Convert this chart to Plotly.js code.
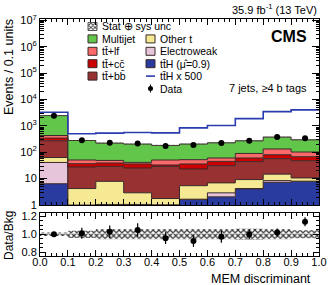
<!DOCTYPE html>
<html><head><meta charset="utf-8">
<script src="https://cdn.plot.ly/plotly-3.0.1.min.js"></script>
<style>body{margin:0;background:#fff}#chart{width:332px;height:285px;}</style>
</head><body><div id="chart"></div>
<script>
// ---- data ----
const binLow = [0.0,0.1,0.2,0.3,0.4,0.5,0.6,0.7,0.8,0.9];
const binHigh = 1.0;
const ttH = [6.4,0.9,0.95,0.95,0.97,1.61,2.04,4.1,7.25,7.9];
const electroweak = [34.6,0.1,0.1,0.1,0.05,0.05,0.85,0.1,1.15,0.1];
const otherT = [22,3.2,6.85,1.85,0.74,3.74,4.0,5.0,6.4,2.6];
const ttbb = [209,23.4,21.2,22.4,27.3,17.8,24,34.7,42.1,37.2];
const ttcc = [71,9.2,9.9,10.6,3.8,12.7,14.1,16.5,23.6,19.8];
const ttlf = [87,14,10,5.3,17.9,16.2,15.4,29.6,52.5,34.4];
const multijet = [2010,228,173,163,130,152,168,182,242,194];
const ttHx500 = [3290,499,531,558,544,841,1026,1885,3466,4017];
const data = [2440,282,228,214,173,189,222,271,382,337];
const dataErr = [49,17,15,15,13,14,15,16,20,18];
const ratioErr = [0.02,0.06,0.07,0.075,0.065,0.065,0.065,0.05,0.045,0.05];
const uncRel = [0.02,0.04,0.055,0.055,0.055,0.055,0.055,0.06,0.055,0.045];
const yTickVals = [1,10,100,1e3,1e4,1e5,1e6,1e7];
const yTickText = ['1','10','10<sup>2</sup>','10<sup>3</sup>','10<sup>4</sup>','10<sup>5</sup>','10<sup>6</sup>','10<sup>7</sup>'];
const col1Labels = ['Stat \u2295 sys unc','Multijet','tt\u0304+lf','tt\u0304+cc\u0304','tt\u0304+bb\u0304'];
const col2Labels = ['Other t','Electroweak','tt\u0304H (\u03bc\u0302=0.9)','tt\u0304H x 500','Data'];

// ---- styles ----
const FONT = 'Liberation Sans, Arial, Helvetica, sans-serif';
const C = {ttH:'#2a3b9f', ew:'#e6c4d9', ot:'#f5ea93', bb:'#983232', cc:'#cc0000', lf:'#fb6a6a', mj:'#62c64b', line:'#2b3cb0'};
const outline = '#3a2828';

const edges = binLow.concat([binHigh]);
const centers = binLow.map(v => v + (binHigh - binLow[binLow.length-1]) / 2);
const step = v => v.concat([v[v.length-1]]);

const comps = [ttH, electroweak, otherT, ttbb, ttcc, ttlf, multijet];
const colors = [C.ttH, C.ew, C.ot, C.bb, C.cc, C.lf, C.mj];
const traces = [];
traces.push({x: edges, y: step(binLow.map(() => 0.01)), type:'scatter', mode:'lines',
  line:{shape:'hv', width:0}, hoverinfo:'skip', xaxis:'x', yaxis:'y'});
let cum = binLow.map(() => 0);
comps.forEach((arr, i) => {
  cum = cum.map((c, j) => c + arr[j]);
  traces.push({x: edges, y: step(cum.slice()), type:'scatter', mode:'lines', fill:'tonexty',
    fillcolor: colors[i], line:{shape:'hv', width:1, color: outline}, xaxis:'x', yaxis:'y'});
});
const total = cum.slice();
traces.push({x: edges, y: step(total.map((t,j) => t*(1-uncRel[j]))), type:'scatter', mode:'lines',
  line:{shape:'hv', width:0}, xaxis:'x', yaxis:'y'});
traces.push({x: edges, y: step(total.map((t,j) => t*(1+uncRel[j]))), type:'scatter', mode:'lines', fill:'tonexty',
  fillcolor:'rgba(0,0,0,0)', fillpattern:{shape:'x', size:3, solidity:0.4, fgcolor:'#555', bgcolor:'rgba(0,0,0,0)'},
  line:{shape:'hv', width:0}, xaxis:'x', yaxis:'y'});
traces.push({x: edges, y: step(ttHx500), type:'scatter', mode:'lines',
  line:{shape:'hv', width:1.6, color:C.line}, xaxis:'x', yaxis:'y'});
traces.push({x: centers, y: data, type:'scatter', mode:'markers',
  marker:{color:'#000', size:6}, error_y:{type:'data', array:dataErr, color:'#000', thickness:1, width:0},
  xaxis:'x', yaxis:'y'});
traces.push({x: edges, y: step(uncRel.map(u => 1-u)), type:'scatter', mode:'lines',
  line:{shape:'hv', width:0}, xaxis:'x2', yaxis:'y2'});
traces.push({x: edges, y: step(uncRel.map(u => 1+u)), type:'scatter', mode:'lines', fill:'tonexty',
  fillcolor:'rgba(0,0,0,0)', fillpattern:{shape:'x', size:4, solidity:0.5, fgcolor:'#333', bgcolor:'rgba(0,0,0,0)'},
  line:{shape:'hv', width:0}, xaxis:'x2', yaxis:'y2'});
traces.push({x: centers, y: data.map((d,j) => d/total[j]), type:'scatter', mode:'markers',
  marker:{color:'#000', size:6}, error_y:{type:'data', array:ratioErr, color:'#000', thickness:1.2, width:0},
  xaxis:'x2', yaxis:'y2'});

// ---- pixel helpers for legend / labels ----
const PL = 40, PR = 319, PT = 19, PB = 256;
const px = v => (v - PL) / (PR - PL);
const py = v => (PB - v) / (PB - PT);

const rowsY = [26.5, 38.9, 51.3, 63.7, 76.1, 88.5];
const shapes = [];
const annotations = [];
traces.push({x:[88,97,97,88,88], y:[rowsY[0]-4,rowsY[0]-4,rowsY[0]+4,rowsY[0]+4,rowsY[0]-4], type:'scatter', mode:'lines',
  fill:'toself', fillcolor:'rgba(0,0,0,0)', fillpattern:{shape:'x', size:3, solidity:0.5, fgcolor:'#444', bgcolor:'rgba(0,0,0,0)'},
  line:{width:1, color:'#555'}, xaxis:'x3', yaxis:'y3'});
const col1Colors = [null, C.mj, C.lf, C.cc, C.bb];
const col2Colors = [C.ot, C.ew, C.ttH];
col1Labels.forEach((lab, i) => {
  if (col1Colors[i]) shapes.push({type:'rect', xref:'paper', yref:'paper', x0:px(88), x1:px(97), y0:py(rowsY[i]-4), y1:py(rowsY[i]+4),
    fillcolor:col1Colors[i], line:{color:outline, width:1}});
  annotations.push({xref:'paper', yref:'paper', x:px(100), y:py(rowsY[i]), xanchor:'left', yanchor:'middle', text:lab,
    showarrow:false, font:{size:10.5, family:FONT, color:'#000'}});
});
col2Labels.forEach((lab, i) => {
  const yy = rowsY[i+1];
  if (i < 3) shapes.push({type:'rect', xref:'paper', yref:'paper', x0:px(146), x1:px(155), y0:py(yy-4), y1:py(yy+4),
    fillcolor:col2Colors[i], line:{color:outline, width:1}});
  if (i === 3) shapes.push({type:'line', xref:'paper', yref:'paper', x0:px(146), x1:px(155), y0:py(yy), y1:py(yy),
    line:{color:C.line, width:1.6}});
  if (i === 4) {
    shapes.push({type:'circle', xref:'paper', yref:'paper', x0:px(148), x1:px(153), y0:py(yy-2.5), y1:py(yy+2.5),
      fillcolor:'#000', line:{color:'#000', width:0}});
    shapes.push({type:'line', xref:'paper', yref:'paper', x0:px(150.5), x1:px(150.5), y0:py(yy-4), y1:py(yy+4),
      line:{color:'#000', width:1}});
  }
  annotations.push({xref:'paper', yref:'paper', x:px(158), y:py(yy), xanchor:'left', yanchor:'middle', text:lab,
    showarrow:false, font:{size:10.5, family:FONT, color:'#000'}});
});
annotations.push(
  {xref:'paper', yref:'paper', x:px(319), y:py(9), xanchor:'right', yanchor:'middle', text:'35.9 fb<sup>-1</sup> (13 TeV)',
   showarrow:false, font:{size:11, family:FONT, color:'#000'}},
  {xref:'paper', yref:'paper', x:px(309), y:py(37), xanchor:'right', yanchor:'middle', text:'<b>CMS</b>',
   showarrow:false, font:{size:16, family:FONT, color:'#000'}},
  {xref:'paper', yref:'paper', x:px(309), y:py(88), xanchor:'right', yanchor:'middle', text:'7 jets, \u22654 b tags',
   showarrow:false, font:{size:11, family:FONT, color:'#000'}},
  {xref:'paper', yref:'paper', x:px(9), y:py(67), xanchor:'center', yanchor:'middle', textangle:-90, text:'Events / 0.1 units',
   showarrow:false, font:{size:12.5, family:FONT, color:'#000'}},
  {xref:'paper', yref:'paper', x:px(9), y:py(236), xanchor:'center', yanchor:'middle', textangle:-90, text:'Data/Bkg',
   showarrow:false, font:{size:12, family:FONT, color:'#000'}},
  {xref:'paper', yref:'paper', x:px(313), y:py(278.5), xanchor:'right', yanchor:'middle', text:'MEM discriminant',
   showarrow:false, font:{size:12.5, family:FONT, color:'#000'}}
);

const axCommon = {showline:true, linecolor:'#000', linewidth:1, mirror:'ticks', ticks:'inside', tickcolor:'#000',
  showgrid:false, zeroline:false, tickfont:{size:11, family:FONT, color:'#000'}};
const minorY = [];
for (let e = 0; e < 7; e++) for (let m = 2; m <= 9; m++) minorY.push(m * Math.pow(10, e));

const layout = {
  width:332, height:285, margin:{l:PL, r:332-PR, t:PT, b:285-PB}, paper_bgcolor:'#fff', plot_bgcolor:'rgba(0,0,0,0)',
  showlegend:false, font:{family:FONT, color:'#000'},
  xaxis: Object.assign({}, axCommon, {domain:[0,1], range:[0,1], anchor:'y', dtick:0.1, ticklen:6, showticklabels:false,
    minor:{dtick:0.02, ticks:'inside', ticklen:3, tickcolor:'#000'}}),
  yaxis: Object.assign({}, axCommon, {type:'log', domain:[(PB-205)/(PB-PT),1], range:[0,7.05], anchor:'x',
    tickmode:'array', tickvals:yTickVals, ticktext:yTickText, ticklen:7,
    minor:{tickmode:'array', tickvals:minorY, ticks:'inside', ticklen:3.5, tickcolor:'#000'}}),
  xaxis2: Object.assign({}, axCommon, {domain:[0,1], range:[0,1], anchor:'y2', dtick:0.1, tickformat:'.1f', ticklen:6,
    ticklabelstandoff:-4,
    minor:{dtick:0.02, ticks:'inside', ticklen:3, tickcolor:'#000'}}),
  yaxis2: Object.assign({}, axCommon, {domain:[0,(PB-213)/(PB-PT)], range:[0.76,1.235], anchor:'x2',
    tickmode:'array', tickvals:[0.8,1.0,1.2], ticktext:['0.8','1.0','1.2'], ticklen:6,
    minor:{dtick:0.05, ticks:'inside', ticklen:3, tickcolor:'#000'}}),
  xaxis3: {overlaying:'x', range:[PL, PR], visible:false, anchor:'y3'},
  yaxis3: {overlaying:'y', range:[205, PT], visible:false, anchor:'x3'},
  shapes: shapes, annotations: annotations
};
Plotly.newPlot('chart', traces, layout, {staticPlot:true, displayModeBar:false});
</script></body></html>
